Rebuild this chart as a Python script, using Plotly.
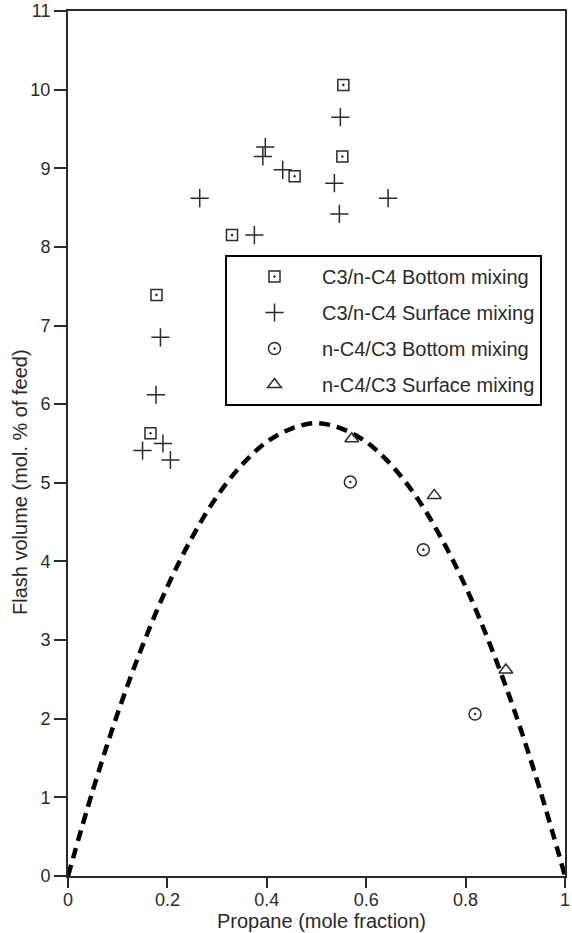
import plotly.graph_objects as go

# ---- data ----
c3_bottom_x = [0.554, 0.552, 0.456, 0.330, 0.178, 0.166]
c3_bottom_y = [10.06, 9.15, 8.90, 8.15, 7.39, 5.63]

c3_surface_x = [0.548, 0.397, 0.392, 0.432, 0.536, 0.265, 0.644, 0.546, 0.375,
                0.186, 0.177, 0.191, 0.150, 0.206]
c3_surface_y = [9.65, 9.27, 9.15, 8.98, 8.81, 8.62, 8.62, 8.42, 8.15,
                6.85, 6.12, 5.50, 5.41, 5.29]

c4_bottom_x = [0.568, 0.715, 0.819]
c4_bottom_y = [5.01, 4.15, 2.06]

c4_surface_x = [0.571, 0.737, 0.881]
c4_surface_y = [5.56, 4.84, 2.62]

curve_x = [0.0, 0.05, 0.10, 0.15, 0.20, 0.25, 0.30, 0.35, 0.40, 0.45, 0.50,
           0.55, 0.60, 0.65, 0.70, 0.75, 0.80, 0.85, 0.90, 0.95, 1.0]
curve_y = [0.0, 1.09, 2.07, 2.93, 3.68, 4.31, 4.83, 5.23, 5.52, 5.69, 5.76,
           5.69, 5.52, 5.23, 4.83, 4.31, 3.68, 2.93, 2.07, 1.09, 0.0]

x_ticks = [0, 0.2, 0.4, 0.6, 0.8, 1]
x_tick_labels = ["0", "0.2", "0.4", "0.6", "0.8", "1"]
y_ticks = list(range(0, 12))

names = ["C3/n-C4 Bottom mixing", "C3/n-C4 Surface mixing",
         "n-C4/C3 Bottom mixing", "n-C4/C3 Surface mixing"]

FONT = "Liberation Sans, Arial, sans-serif"
INK = "#2a2a2a"

fig = go.Figure()

fig.add_trace(go.Scatter(x=curve_x, y=curve_y, mode="lines", showlegend=False,
                         line=dict(color="black", width=4.5, dash="11px,7px", shape="spline"),
                         hoverinfo="skip"))

specs = [
    (c3_bottom_x, c3_bottom_y, "square-open-dot", 11),
    (c3_surface_x, c3_surface_y, "cross-thin-open", 13),
    (c4_bottom_x, c4_bottom_y, "circle-open-dot", 12),
    (c4_surface_x, c4_surface_y, "triangle-up-open", 12),
]
for i, (xs, ys, sym, sz) in enumerate(specs):
    fig.add_trace(go.Scatter(
        x=xs, y=ys, mode="markers", name=names[i], legendgroup=str(i),
        marker=dict(symbol=sym, size=sz, color=INK, line=dict(color=INK, width=1.5)),
    ))

# the page's body margin is removed (post_script), so figure == page
W, H = 572, 933
L, R, T, B = 68, 7, 11, 57
PW, PH = W - L - R, H - T - B


def px_x(px):  # page x -> paper x
    return (px - L) / PW


def px_y(py):  # page y -> paper y
    return (H - B - py) / PH


fig.update_layout(
    width=W, height=H,
    margin=dict(l=L, r=R, t=T, b=B),
    paper_bgcolor="white", plot_bgcolor="white",
    font=dict(family=FONT, color=INK, size=18),
    legend=dict(
        x=px_x(225), y=px_y(255), xanchor="left", yanchor="top",
        bordercolor="black", borderwidth=2, bgcolor="white",
        font=dict(family=FONT, size=20, color=INK),
        traceorder="grouped", tracegroupgap=7, itemwidth=85,
    ),
    xaxis=dict(
        range=[0, 1], tickvals=x_ticks, ticktext=x_tick_labels, automargin=False,
        showgrid=False, zeroline=False, showline=True, linecolor=INK, linewidth=2,
        mirror=True, ticks="outside", ticklen=10, tickwidth=2, tickcolor=INK,
        tickfont=dict(size=18), ticklabelstandoff=-4, ticklabeloverflow="allow",
    ),
    yaxis=dict(
        range=[0, 11], tickvals=y_ticks, automargin=False,
        showgrid=False, zeroline=False, showline=True, linecolor=INK, linewidth=2,
        mirror=True, ticks="outside", ticklen=12, tickwidth=2, tickcolor=INK,
        tickfont=dict(size=18), ticklabeloverflow="allow",
    ),
    annotations=[
        dict(text="Flash volume (mol. % of feed)", xref="paper", yref="paper",
             x=px_x(20), y=px_y(482), textangle=-90,
             showarrow=False, font=dict(size=20, family=FONT, color=INK),
             xanchor="center", yanchor="middle"),
        dict(text="Propane (mole fraction)", xref="paper", yref="paper",
             x=px_x(321), y=px_y(921),
             showarrow=False, font=dict(size=20, family=FONT, color=INK),
             xanchor="center", yanchor="middle"),
    ],
)

fig.write_html("out.html", config={"displayModeBar": False},
               post_script="document.body.style.margin='0';document.body.style.overflow='hidden';")
